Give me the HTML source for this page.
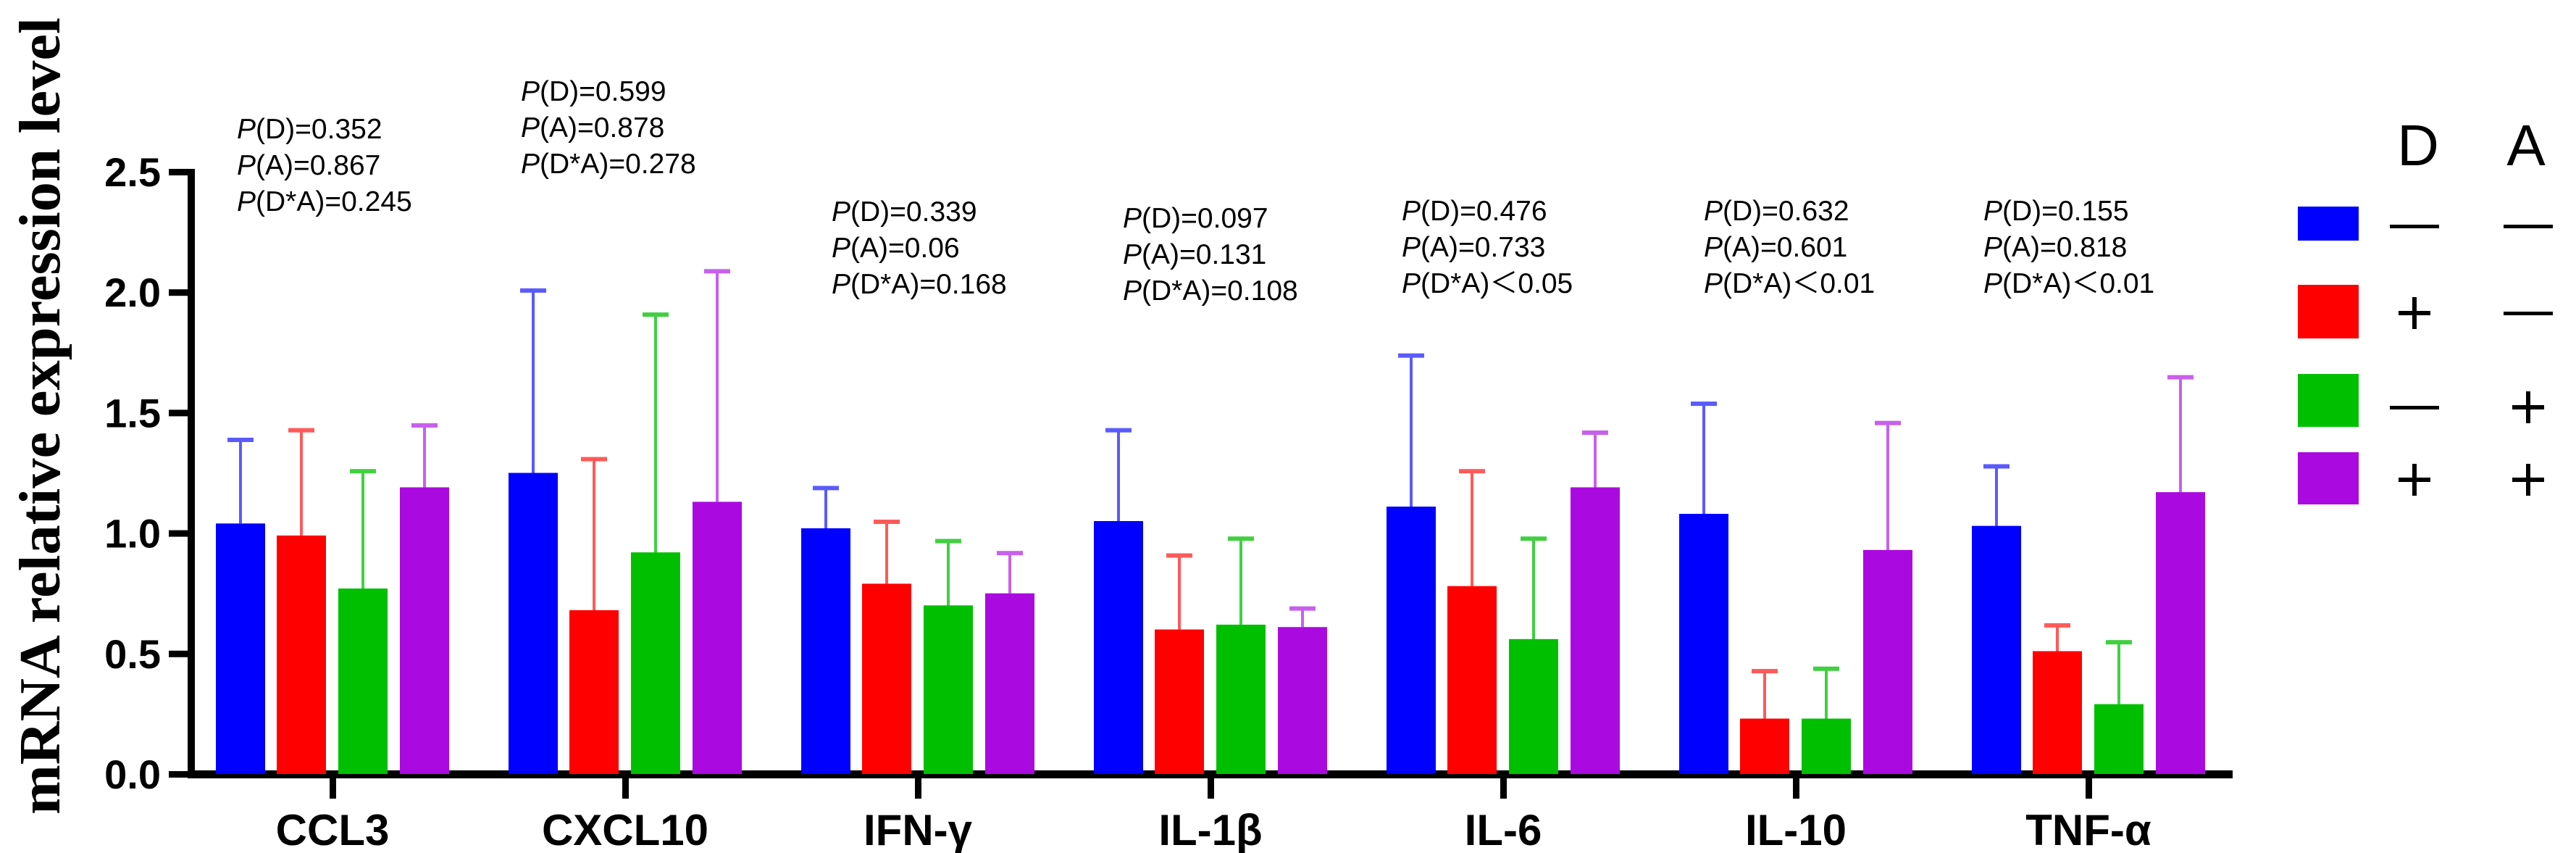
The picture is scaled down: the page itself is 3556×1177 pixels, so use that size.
<!DOCTYPE html>
<html><head><meta charset="utf-8"><style>
html,body{margin:0;padding:0;background:#fff;}
svg{display:block;}
</style></head><body>
<svg id="chart" width="3556" height="1177" viewBox="0 0 3556 1177" xmlns="http://www.w3.org/2000/svg">
<text transform="translate(82,574) rotate(-90)" text-anchor="middle" font-family="Liberation Serif, serif" font-weight="bold" font-size="80" textLength="1100" lengthAdjust="spacingAndGlyphs">mRNA relative expression level</text>
<g id="axes"></g><g id="bars"></g><g id="annots"></g>
<g id="legend">
  <text x="3338" y="228" text-anchor="middle" font-family="Liberation Sans, sans-serif" font-size="80">D</text>
  <text x="3487" y="228" text-anchor="middle" font-family="Liberation Sans, sans-serif" font-size="80">A</text>
</g>
</svg>
<script>
const categories = ["CCL3","CXCL10","IFN-γ","IL-1β","IL-6","IL-10","TNF-α"];
const seriesNames = ["D- A-","D+ A-","D- A+","D+ A+"];
const meanBlue   = [1.04,1.25,1.02,1.05,1.11,1.08,1.03];
const meanRed    = [0.99,0.68,0.79,0.60,0.78,0.23,0.51];
const meanGreen  = [0.77,0.92,0.70,0.62,0.56,0.23,0.29];
const meanPurple = [1.19,1.13,0.75,0.61,1.19,0.93,1.17];
const errBlue    = [1.39,2.01,1.19,1.43,1.74,1.54,1.28];
const errRed     = [1.43,1.31,1.05,0.91,1.26,0.43,0.62];
const errGreen   = [1.26,1.91,0.97,0.98,0.98,0.44,0.55];
const errPurple  = [1.45,2.09,0.92,0.69,1.42,1.46,1.65];
const yTicks = [0,0.5,1.0,1.5,2.0,2.5];
const yTickLabels = ["0.0","0.5","1.0","1.5","2.0","2.5"];
const pD  = ["=0.352","=0.599","=0.339","=0.097","=0.476","=0.632","=0.155"];
const pA  = ["=0.867","=0.878","=0.06","=0.131","=0.733","=0.601","=0.818"];
const pDA = ["=0.245","=0.278","=0.168","=0.108","＜0.05","＜0.01","＜0.01"];

const NS="http://www.w3.org/2000/svg";
const means=[meanBlue,meanRed,meanGreen,meanPurple];
const errs=[errBlue,errRed,errGreen,errPurple];
const colors=["#0000ff","#ff0000","#00bf00","#aa0ae0"];
const errColors=["#5a5aff","#ff5a5a","#40d040","#c860ec"];
const y0=1068, yTop=237, yMax=2.5;
function yS(v){return y0-(v/yMax)*(y0-yTop);}
const gx0=459, gStep=404;
function xS(i){return gx0+i*gStep;}
const offs=[-127,-43,42,127], bw=68;
function mk(tag,attrs,parent,txt){const e=document.createElementNS(NS,tag);for(const k in attrs)e.setAttribute(k,attrs[k]);if(txt!==undefined)e.textContent=txt;parent.appendChild(e);return e;}
const axes=document.getElementById('axes'), bars=document.getElementById('bars'), ann=document.getElementById('annots'), leg=document.getElementById('legend');

means.forEach((arr,s)=>{arr.forEach((v,i)=>{
  const cx=xS(i)+offs[s];
  const top=yS(errs[s][i]);
  const l=mk('line',{x1:cx,x2:cx,y1:top,y2:yS(v),stroke:errColors[s],'stroke-width':4},bars);
  
  
  const c=mk('rect',{x:cx-18,y:top-2,width:36,height:6,fill:errColors[s]},bars);
  
  
  const r=mk('rect',{x:cx-bw/2,y:yS(v),width:bw,height:yS(0)-yS(v),fill:colors[s]},bars);
  
  
});});

const ya=mk('rect',{x:259,y:yTop-4,width:10,height:y0-yTop+10,fill:'#000'},axes);


const xa=mk('rect',{x:259,y:y0-5,width:3082-259,height:11,fill:'#000'},axes);


yTicks.forEach((t,k)=>{
  const tk=mk('rect',{x:233,y:yS(t)-4,width:30,height:9,fill:'#000'},axes);
  
  
  const tl=mk('text',{x:222,y:yS(t)+20,'text-anchor':'end','font-family':'Liberation Sans, sans-serif','font-weight':'bold','font-size':56},axes,yTickLabels[k]);
  
  
});
categories.forEach((c,i)=>{
  const tk=mk('rect',{x:xS(i)-4,y:y0,width:9,height:34,fill:'#000'},axes);
  
  
  const tl=mk('text',{x:xS(i),y:1166,'text-anchor':'middle','font-family':'Liberation Sans, sans-serif','font-weight':'bold','font-size':60},axes,c);
  
  
});

const annX=[327,719,1148,1550,1935,2352,2738];
const annY=[176,124,290,299,289,289,289];
categories.forEach((c,i)=>{
  [["(D)",pD[i]],["(A)",pA[i]],["(D*A)",pDA[i]]].forEach((p,k)=>{
    const t=mk('text',{x:annX[i],y:annY[i]+k*50+15,'font-family':'Liberation Sans, sans-serif','font-size':39},ann);
    
    
    mk('tspan',{'font-style':'italic'},t,'P');
    mk('tspan',{},t,p[0]+p[1]);
  });
});

const legY=[[285,332],[393,467],[516,589],[624,696]];
const signRows=[312,432,562,662];
const dSigns=['-','+','-','+'], aSigns=['-','-','+','+'];
function sign(x,y,s,name){
  const g=mk('g',{},leg);
  
  
  if(s==='-'){mk('rect',{x:x-34,y:y-2,width:68,height:5,fill:'#000'},g);}
  else{mk('rect',{x:x-22,y:y-3,width:44,height:6,fill:'#000'},g);mk('rect',{x:x-3,y:y-22,width:6,height:44,fill:'#000'},g);}
}
colors.forEach((col,s)=>{
  const r=mk('rect',{x:3172,y:legY[s][0],width:84,height:legY[s][1]-legY[s][0],fill:col},leg);
  
  
  sign(3333,signRows[s],dSigns[s],'legend-d-sign');
  sign(3490,signRows[s],aSigns[s],'legend-a-sign');
});
</script>
</body></html>
